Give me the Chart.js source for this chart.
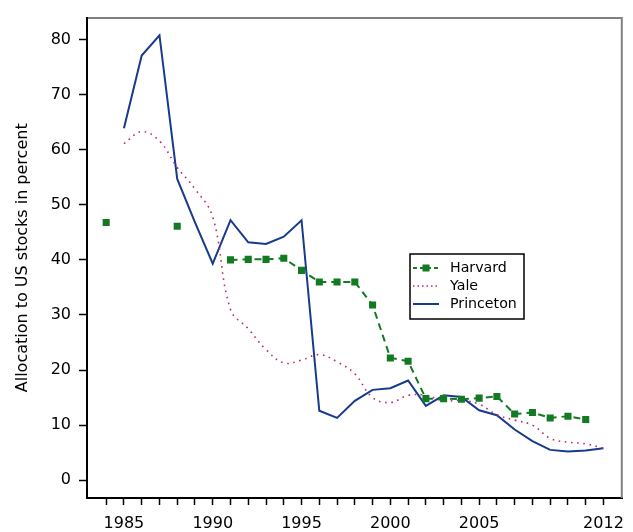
<!DOCTYPE html>
<html>
<head>
<meta charset="utf-8">
<script src="https://cdn.jsdelivr.net/npm/chart.js@4"></script>
<style>
  html, body { margin: 0; padding: 0; background: #fff; }
  canvas { display: block; }
</style>
</head>
<body>
<canvas id="chart" width="633" height="532"></canvas>
<script>
var years = [1984, 1985, 1986, 1987, 1988, 1989, 1990, 1991, 1992, 1993,
             1994, 1995, 1996, 1997, 1998, 1999, 2000, 2001, 2002, 2003,
             2004, 2005, 2006, 2007, 2008, 2009, 2010, 2011, 2012];
var labelYears = [1985, 1990, 1995, 2000, 2005, 2012];
var yTicks = [0, 10, 20, 30, 40, 50, 60, 70, 80];

var harvard = [46.8, null, null, null, 46.1, null, null, 40.0, 40.1, 40.1,
               40.3, 38.1, 36.0, 36.0, 36.0, 31.8, 22.2, 21.6, 14.8, 14.8,
               14.7, 14.9, 15.2, 12.0, 12.3, 11.3, 11.6, 11.0, null];
var yale = [null, 61.1, 63.3, 61.6, 56.8, 52.9, 47.8, 31.0, 27.5, 23.7,
            21.3, 21.8, 22.8, 21.5, 19.3, 15.0, 14.1, 15.4, 15.4, 14.4,
            14.5, 13.8, 11.9, 10.9, 10.0, 7.6, 6.9, 6.6, 5.8];
var princeton = [null, 63.9, 77.1, 80.8, 54.7, 46.8, 39.3, 47.2, 43.2, 42.9,
                 44.2, 47.2, 12.6, 11.3, 14.4, 16.4, 16.7, 18.1, 13.5, 15.4,
                 15.1, 12.7, 11.8, 9.2, 7.1, 5.5, 5.2, 5.4, 5.8];

var green = "#127a22";
var magenta = "#b8287e";
var navy = "#173a8c";
var FONT = "'DejaVu Sans', sans-serif";

function toPoints(arr) {
  return years.map(function(y, i) { return { x: y, y: arr[i] }; });
}

// gray top/right frame like the original
var framePlugin = {
  id: "frame",
  afterDraw: function(chart) {
    var a = chart.chartArea, ctx = chart.ctx;
    ctx.save();
    ctx.strokeStyle = "#808080";
    ctx.lineWidth = 2;
    ctx.beginPath();
    ctx.moveTo(a.left + 1, a.top + 0.5);
    ctx.lineTo(a.right - 0.5, a.top + 0.5);
    ctx.lineTo(a.right - 0.5, a.bottom);
    ctx.stroke();
    ctx.restore();
  }
};

// boxed legend inside the plot
var legendPlugin = {
  id: "boxLegend",
  afterDraw: function(chart) {
    var ctx = chart.ctx;
    var bx = 410, by = 254, bw = 114, bh = 65;
    ctx.save();
    ctx.fillStyle = "#fff";
    ctx.fillRect(bx, by, bw, bh);
    ctx.strokeStyle = "#000";
    ctx.lineWidth = 1.5;
    ctx.strokeRect(bx, by, bw, bh);

    var rows = [
      { text: "Harvard", color: green, dash: [4, 3], width: 2, marker: true },
      { text: "Yale", color: magenta, dash: [1.5, 3], width: 1.5, marker: false },
      { text: "Princeton", color: navy, dash: [], width: 2, marker: false }
    ];
    rows.forEach(function(r, i) {
      var y = 268 + i * 18;
      ctx.strokeStyle = r.color;
      ctx.lineWidth = r.width;
      ctx.setLineDash(r.dash);
      ctx.beginPath();
      ctx.moveTo(bx + 3, y);
      ctx.lineTo(bx + 29, y);
      ctx.stroke();
      ctx.setLineDash([]);
      if (r.marker) {
        ctx.fillStyle = r.color;
        ctx.fillRect(bx + 12.5, y - 3.5, 7, 7);
      }
      ctx.fillStyle = "#000";
      ctx.font = "14.2px " + FONT;
      ctx.textBaseline = "middle";
      ctx.textAlign = "left";
      ctx.fillText(r.text, bx + 40, y);
    });
    ctx.restore();
  }
};

new Chart(document.getElementById("chart"), {
  type: "line",
  data: {
    datasets: [
      {
        label: "Harvard",
        data: toPoints(harvard),
        borderColor: green,
        backgroundColor: green,
        borderWidth: 2,
        borderDash: [7, 5],
        pointStyle: "rect",
        pointRadius: 5,
        pointBorderWidth: 0,
        pointBackgroundColor: green,
        tension: 0
      },
      {
        label: "Yale",
        data: toPoints(yale),
        borderColor: magenta,
        borderWidth: 1.6,
        borderDash: [1.6, 4.6],
        pointRadius: 0,
        tension: 0.4
      },
      {
        label: "Princeton",
        data: toPoints(princeton),
        borderColor: navy,
        borderWidth: 2,
        pointRadius: 0,
        tension: 0
      }
    ]
  },
  options: {
    responsive: false,
    animation: false,
    events: [],
    layout: { autoPadding: false, padding: { top: 5, right: 5, left: 0, bottom: 0 } },
    plugins: {
      legend: { display: false },
      tooltip: { enabled: false }
    },
    scales: {
      x: {
        type: "linear",
        min: 1982.92,
        max: 2013.06,
        afterBuildTicks: function(scale) {
          scale.ticks = years.map(function(y) { return { value: y }; });
        },
        afterFit: function(scale) { scale.height = 34; },
        grid: { drawOnChartArea: false, drawTicks: true, tickLength: 7, tickColor: "#000", tickWidth: 1.5 },
        border: { display: true, color: "#000", width: 2 },
        ticks: {
          autoSkip: false,
          maxRotation: 0,
          padding: 9,
          color: "#000",
          font: { family: FONT, size: 16 },
          callback: function(v) { return labelYears.indexOf(v) >= 0 ? String(v) : ""; }
        }
      },
      y: {
        min: -3.24,
        max: 84.0,
        afterBuildTicks: function(scale) {
          scale.ticks = yTicks.map(function(v) { return { value: v }; });
        },
        afterFit: function(scale) { scale.width = 87; },
        grid: { drawOnChartArea: false, drawTicks: true, tickLength: 8, tickColor: "#000", tickWidth: 1.5 },
        border: { display: true, color: "#000", width: 2 },
        ticks: {
          padding: 8,
          color: "#000",
          font: { family: FONT, size: 16 },
          callback: function(v) { return String(v); }
        },
        title: {
          display: true,
          text: "Allocation to US stocks in percent",
          color: "#000",
          font: { family: FONT, size: 16 },
          padding: { top: 13, bottom: 0 }
        }
      }
    }
  },
  plugins: [framePlugin, legendPlugin]
});
</script>
</body>
</html>
